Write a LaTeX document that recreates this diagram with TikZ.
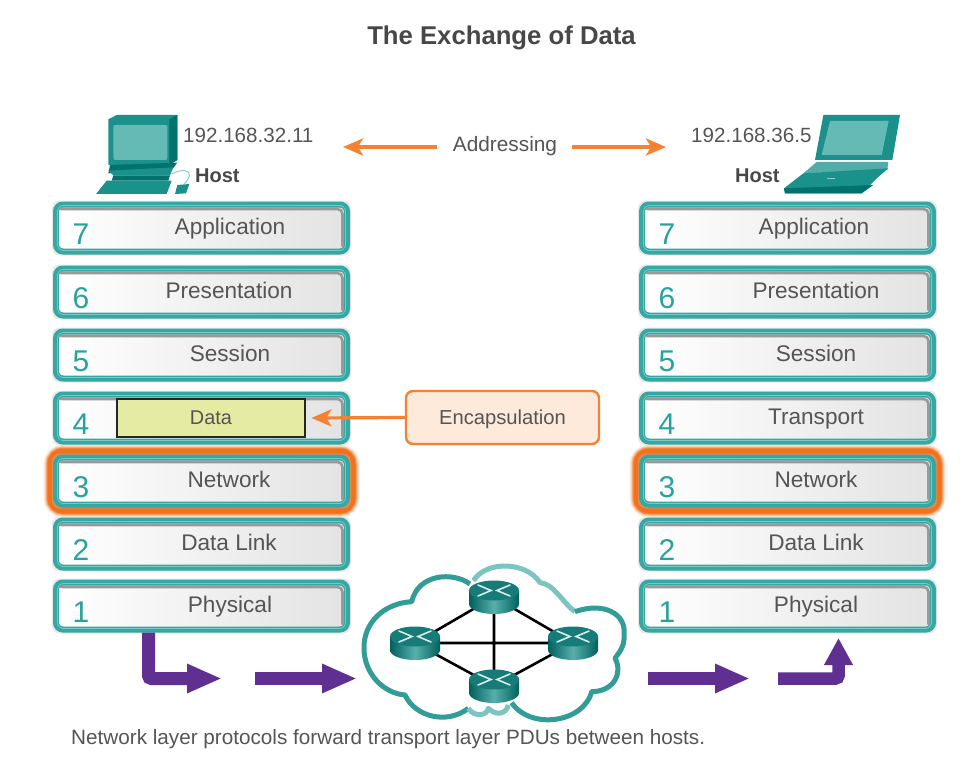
\documentclass[tikz,border=0pt]{standalone}
\usepackage{fontspec}
\setmainfont{Liberation Sans}
\usetikzlibrary{arrows.meta}
\definecolor{tealedge}{HTML}{35A8A3}
\definecolor{teallight}{HTML}{8CD0CC}
\definecolor{tealdark}{HTML}{00726E}
\definecolor{tealmid}{HTML}{1B918C}
\definecolor{tealscreen}{HTML}{66BAB6}
\definecolor{numteal}{HTML}{27A39E}
\definecolor{txt}{HTML}{555555}
\definecolor{orangeline}{HTML}{F58232}
\definecolor{glow}{HTML}{F26A12}
\definecolor{purplearrow}{HTML}{5F2F92}
\definecolor{datafill}{HTML}{E6EBA3}
\definecolor{encapfill}{HTML}{FDEADB}
\newcommand{\fs}[1]{\fontsize{#1}{#1}\selectfont}
\tikzset{
  layerbox/.style={rectangle,rounded corners=7pt,draw=tealedge,line width=6pt,
    left color=white,right color=black!11,minimum width=291pt,minimum height=47pt,inner sep=0pt},
  layertext/.style={anchor=base,text=txt,font=\fs{22.6},inner sep=0pt},
  layernum/.style={anchor=center,text=numteal,font=\fs{30},inner sep=0pt},
  smalltext/.style={text=txt,font=\fs{20.6},inner sep=0pt},
  hosttext/.style={text=txt!85!black,font=\fs{20}\bfseries,inner sep=0pt},
  orangearrow/.style={draw=orangeline,line width=3.2pt,-{Stealth[length=20pt,width=17pt,inset=5pt]}},
  bluearrow/.style={draw=purplearrow,line width=13pt,rounded corners=3pt,-{Triangle[length=35pt,width=27pt]}},
  bluearrowup/.style={draw=purplearrow,line width=12.5pt,rounded corners=3pt,-{Triangle[length=27pt,width=27pt]}},
  link/.style={draw=black,line width=2.6pt},
  cloudline/.style={line width=5pt,fill=none,line join=round},
  dev/.style={line join=round}
}
% #1 name, #2 left x, #3 centre y, #4 number, #5 label, #6 label x
\newcommand{\layerrow}[6]{
  \fill[black!25,opacity=.35,rounded corners=8pt] (#2-1,#3-27.5) rectangle (#2+298,#3+27.5);
  \node[layerbox] (#1) at (#2+148.5,#3) {};
  \draw[teallight,line width=.8pt,rounded corners=6pt,opacity=.8] (#2+4.5,#3-22.5) rectangle (#2+292.5,#3+22.5);
  \draw[black!40,line width=2.6pt,line cap=round,rounded corners=5pt]
     (#2+8,#3-19) -- (#2+289.5,#3-19) -- (#2+289.5,#3+18);
  \node[layernum] (#1n) at (#2+28,#3+6) {#4};
  \node[layertext] (#1t) at (#6,#3+6) {#5};
}
\newcommand{\glowbox}[2]{
  \foreach \w/\o in {19/.10,17/.18,15/.3,13/.5,11/.8}{
    \draw[glow,line width=\w pt,opacity=\o,rounded corners=10pt] (#1,#2-27) rectangle (#1+297,#2+27);
  }
}
\newcommand{\router}[3]{
  \begin{scope}[shift={(#2,#3)}]
    \shade[left color=tealdark!85!black,right color=tealdark!85!black,middle color=tealscreen!85!tealdark]
      (-25,-6) -- (-25,7) arc[start angle=180,end angle=0,x radius=25,y radius=10] -- (25,-6) -- cycle;
    \fill[tealmid!85!black] (0,-6.5) ellipse[x radius=25,y radius=10];
    \draw[white!85!teal,line width=1.6pt,line cap=round]
      (-16,-12) -- (-3,-6.5) -- (-16,-1) (16,-12) -- (3,-6.5) -- (16,-1);
  \end{scope}
}
\begin{document}
\begin{tikzpicture}[x=1pt,y=-1pt]
\useasboundingbox[fill=white] (0,0) rectangle (979,762);

\node[anchor=center,text=black!72,font=\fs{25.7}\bfseries,inner sep=0pt] (title) at (501.5,38) {The Exchange of Data};

% glow
\glowbox{53}{481}
\glowbox{639}{481}

% left stack
\layerrow{L7}{53}{228}{7}{Application}{230}
\layerrow{L6}{53}{292}{6}{Presentation}{229}
\layerrow{L5}{53}{355}{5}{Session}{230}
\layerrow{L4}{53}{418}{4}{}{210}
\layerrow{L3}{53}{481}{3}{Network}{229}
\layerrow{L2}{53}{544}{2}{Data Link}{229}
\layerrow{L1}{53}{606}{1}{Physical}{230}

% right stack
\layerrow{R7}{639}{228}{7}{Application}{814}
\layerrow{R6}{639}{292}{6}{Presentation}{816}
\layerrow{R5}{639}{355}{5}{Session}{816}
\layerrow{R4}{639}{418}{4}{Transport}{816}
\layerrow{R3}{639}{481}{3}{Network}{816}
\layerrow{R2}{639}{544}{2}{Data Link}{816}
\layerrow{R1}{639}{606}{1}{Physical}{816}

% data + encapsulation
\node[rectangle,draw=black!85,line width=2.8pt,fill=datafill,minimum width=188pt,minimum height=38pt,inner sep=0pt,text=txt,font=\fs{19.9}] (data) at (211,418) {Data};
\node[rectangle,rounded corners=7pt,draw=orangeline,line width=2.4pt,fill=encapfill,minimum width=193pt,minimum height=53pt,inner sep=0pt,text=txt,font=\fs{20.2}] (encap) at (502.5,417.5) {\raisebox{-6.5pt}[0pt][0pt]{Encapsulation}};
\draw[orangearrow] (encap.west) -- ([xshift=5pt]data.east);

% hosts
\node[smalltext,anchor=west] (ipa) at (183,135) {192.168.32.11};
\node[hosttext,anchor=west] (hosta) at (195,176) {Host};
\node[smalltext,anchor=west] (ipb) at (691,135) {192.168.36.5};
\node[hosttext,anchor=west] (hostb) at (735,176) {Host};
\node[smalltext,anchor=center,font=\fs{20.8}] (addr) at (505,146) {Addressing};
\coordinate (tipa) at (343,147);
\coordinate (tipb) at (666,147);
\draw[orangearrow] (437,147) -- (tipa);
\draw[orangearrow] (572,147) -- (tipb);

% desktop
\begin{scope}[shift={(90,110)},x=1/3*1pt,y=-1/3*1pt]
  \fill[tealmid,dev] (55,28) -- (80,15) -- (262,15) -- (262,150) -- (238,165) -- (55,165) -- cycle;
  \fill[tealdark,dev] (238,28) -- (262,15) -- (262,150) -- (238,165) -- cycle;
  \fill[tealscreen,rounded corners=2pt] (70,45) rectangle (232,150);
  \fill[tealdark,dev] (60,165) -- (262,158) -- (245,180) -- (55,190) -- cycle;
  \fill[tealmid,dev] (55,182) -- (250,172) -- (240,196) -- (70,196) -- cycle;
  \fill[tealdark,dev] (70,196) -- (240,196) -- (235,212) -- (65,212) -- cycle;
  \fill[tealmid,dev] (50,212) -- (245,212) -- (230,252) -- (18,252) -- cycle;
  \fill[tealmid,dev] (262,225) -- (298,222) -- (288,250) -- (255,252) -- cycle;
  \draw[teallight,line width=1pt] (245,192) .. controls (285,170) and (320,185) .. (282,222);
\end{scope}

% laptop
\begin{scope}[shift={(660,100)},x=1/3*1pt,y=-1/3*1pt]
  \fill[tealmid,dev] (490,45) -- (720,45) -- (697,180) -- (465,180) -- cycle;
  \fill[tealscreen] (510,63) -- (686,63) -- (665,165) -- (485,165) -- cycle;
  \fill[tealmid!75!white,dev] (470,186) -- (685,186) -- (682,210) -- (430,220) -- cycle;
  \fill[tealmid,dev] (430,220) -- (685,205) -- (650,235) -- (605,280) -- (375,280) -- (372,265) -- cycle;
  \fill[tealdark] (372,265) -- (640,255) -- (605,280) -- (375,280) -- cycle;
  \draw[teallight,line width=1pt] (500,235) -- (525,235);
\end{scope}

% cloud
\begin{scope}[shift={(340,560)},x=1/3*1pt,y=-1/3*1pt]
  \draw[cloudline,tealscreen!85!white] (400,62) .. controls (440,0) and (560,5) .. (600,68)
     .. controls (640,70) and (670,130) .. (705,155);
  \draw[cloudline,tealmid!90!white] (705,155) .. controls (790,125) and (860,160) .. (852,225)
     .. controls (855,260) and (835,280) .. (825,295)
     .. controls (850,340) and (820,395) .. (755,395)
     .. controls (730,490) and (570,510) .. (515,428);
  \draw[cloudline,tealmid!90!white] (390,72) .. controls (340,35) and (235,40) .. (215,125)
     .. controls (130,130) and (70,190) .. (72,265)
     .. controls (72,340) and (130,400) .. (195,405)
     .. controls (225,470) and (320,495) .. (385,445);
  \draw[cloudline,tealscreen!85!white] (385,445) .. controls (400,470) and (440,470) .. (445,445)
     .. controls (470,470) and (500,460) .. (505,435);
\end{scope}
\coordinate (rt) at (494,597);
\coordinate (rl) at (415,643);
\coordinate (rr) at (573,643);
\coordinate (rb) at (494,686);
\draw[link] (rt) -- (rl) (rt) -- (rr) (rb) -- (rl) (rb) -- (rr) (rt) -- (rb) (rl) -- (rr);
\router{routertop}{494}{597}
\router{routerleft}{415}{643}
\router{routerright}{573}{643}
\router{routerbottom}{494}{686}

% purple arrows
\coordinate (p1a) at (148.5,632);
\coordinate (p1b) at (222,678.5);
\coordinate (p2a) at (255,678.5);
\coordinate (p2b) at (357,678.5);
\coordinate (p3a) at (648,678.5);
\coordinate (p3b) at (750,678.5);
\coordinate (p4a) at (778,678.5);
\coordinate (p4b) at (838.5,638);
\draw[bluearrow] (L1.south -| p1a) |- (p1b);
\draw[bluearrow] (p2a) -- (p2b);
\draw[bluearrow] (p3a) -- (p3b);
\draw[bluearrowup] (p4a) -| (p4b);

\node[anchor=west,text=txt,font=\fs{20.7},inner sep=0pt] (caption) at (71,739) {Network layer protocols forward transport layer PDUs between hosts.};
\end{tikzpicture}
\end{document}
